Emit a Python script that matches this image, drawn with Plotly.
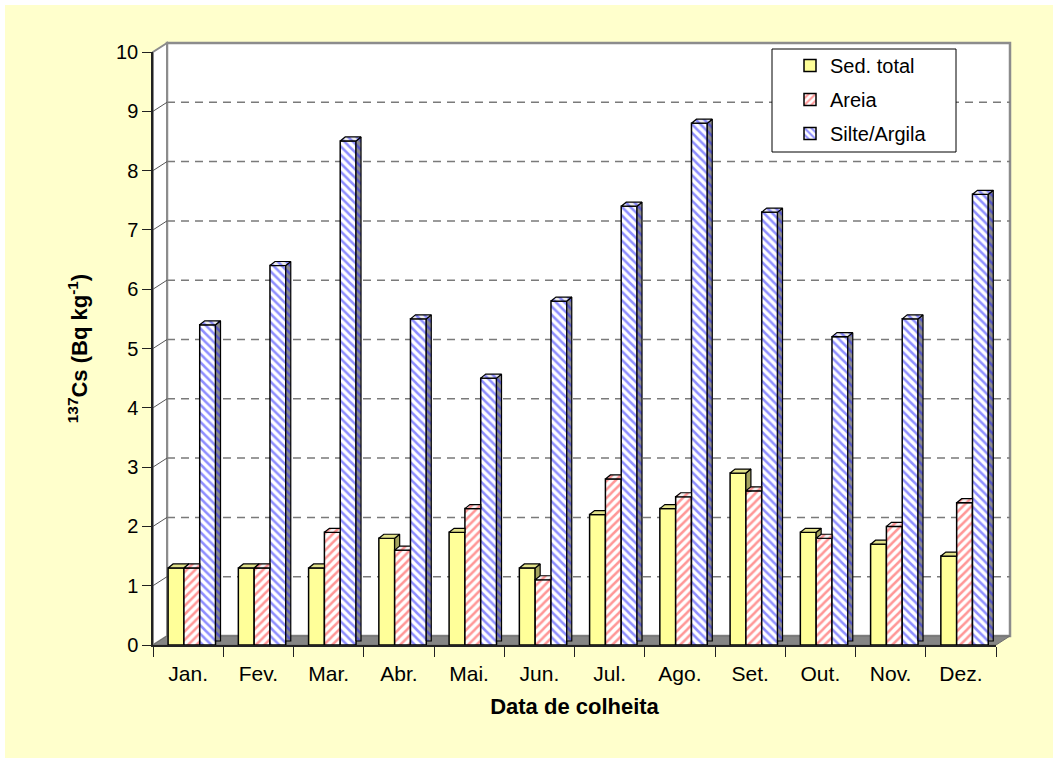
import plotly.graph_objects as go

# ---- data -------------------------------------------------------------
months = ["Jan.", "Fev.", "Mar.", "Abr.", "Mai.", "Jun.",
          "Jul.", "Ago.", "Set.", "Out.", "Nov.", "Dez."]
sed_total = [1.3, 1.3, 1.3, 1.8, 1.9, 1.3, 2.2, 2.3, 2.9, 1.9, 1.7, 1.5]
areia = [1.3, 1.3, 1.9, 1.6, 2.3, 1.1, 2.8, 2.5, 2.6, 1.8, 2.0, 2.4]
silte_argila = [5.4, 6.4, 8.5, 5.5, 4.5, 5.8, 7.4, 8.8, 7.3, 5.2, 5.5, 7.6]
y_ticks = list(range(0, 11))

# ---- geometry of the figure (pixels) -----------------------------------
W, H = 1053, 758
L, R, T, B = 153, 996, 52, 645          # front frame of the plot area
WALL_DX, WALL_DY = 14, 9                # depth of walls / floor
BAR_DX, BAR_DY = 5, 4                   # depth of each column
FONT = "Liberation Sans, Arial, sans-serif"

x_range = (-0.5, len(months) - 0.5)
y_range = (0, 10)
ux = (R - L) / (x_range[1] - x_range[0])   # px per category
uy = (B - T) / (y_range[1] - y_range[0])   # px per value unit
ddx = BAR_DX / ux
ddy = BAR_DY / uy


def px(x):
    return (x - L) / (R - L)


def py(y):
    return (B - y) / (B - T)


BW = 0.225
series = [
    dict(name="Sed. total", vals=sed_total, off=-0.285, front="#FFFF99",
         top="#E2E28A", side="#A3A35E", pattern=None),
    dict(name="Areia", vals=areia, off=-0.06, front="white",
         top="#F4F4F4", side="#8C8C8C",
         pattern=dict(shape="/", fgcolor="#FF3030", size=6, solidity=0.42)),
    dict(name="Silte/Argila", vals=silte_argila, off=0.165, front="white",
         top="#ECECEC", side="#8C8C8C",
         pattern=dict(shape="\\", fgcolor="#2020FF", size=6, solidity=0.42)),
]

fig = go.Figure()

# front faces of the columns
for s in series:
    marker = dict(color=s["front"], line=dict(color="black", width=1.5))
    if s["pattern"]:
        marker["pattern"] = dict(s["pattern"], bgcolor="white")
    fig.add_trace(go.Bar(
        x=list(range(len(months))), y=s["vals"], width=BW, offset=s["off"],
        marker=marker, name=s["name"], legendgroup=s["name"],
        hoverinfo="skip",
    ))

# side and top faces (3-D look), drawn from the same values
for si, s in enumerate(series):
    nxt = series[si + 1]["vals"] if si + 1 < len(series) else None
    sx, sy, tx, ty = [], [], [], []
    for k, v in enumerate(s["vals"]):
        x0 = k + s["off"]
        x1 = x0 + BW
        nv = nxt[k] if nxt else 0.0
        # right side face, hidden below the neighbouring column
        c = max(nv, 0.0)
        if c < v:
            c = max(c, ddy)
            sx += [x1, x1 + ddx, x1 + ddx, x1, x1, None]
            sy += [c, c, v + ddy, v, c, None]
        elif c < v + ddy:
            xi = x1 + ddx * (c - v) / ddy
            sx += [xi, x1 + ddx, x1 + ddx, xi, None]
            sy += [c, c, v + ddy, c, None]
        # top face
        if nv > v + ddy / 2:
            tx += [x0, x0 + ddx, x1, x1, x0, None]
            ty += [v, v + ddy, v + ddy, v, v, None]
        else:
            tx += [x0, x0 + ddx, x1 + ddx, x1, x0, None]
            ty += [v, v + ddy, v + ddy, v, v, None]
    for xs, ys, col in ((sx, sy, s["side"]), (tx, ty, s["top"])):
        kw = dict(x=xs, y=ys, mode="lines", fill="toself",
                  line=dict(color="black", width=1.2),
                  showlegend=False, hoverinfo="skip", fillcolor=col,
                  legendgroup=s["name"])
        if s["pattern"]:
            kw["fillpattern"] = dict(s["pattern"], bgcolor=col)
        fig.add_trace(go.Scatter(**kw))

# ---- walls, floor and gridlines ---------------------------------------
shapes = []
# page background (thin white edge at top/left)
shapes.append(dict(type="rect", xref="paper", yref="paper",
                   x0=px(5), x1=px(W + 5), y0=py(5), y1=py(H + 5),
                   fillcolor="#FFFFCC", line=dict(width=0), layer="below"))
# back wall
shapes.append(dict(type="rect", xref="paper", yref="paper",
                   x0=px(L + WALL_DX), x1=px(R + WALL_DX),
                   y0=py(B - WALL_DY), y1=py(T - WALL_DY),
                   fillcolor="white", line=dict(color="#8C8C8C", width=2.5),
                   layer="below"))
# left wall
shapes.append(dict(type="path", xref="paper", yref="paper",
                   path=f"M{px(L)},{py(B)} L{px(L)},{py(T)} "
                        f"L{px(L + WALL_DX)},{py(T - WALL_DY)} "
                        f"L{px(L + WALL_DX)},{py(B - WALL_DY)} Z",
                   fillcolor="white", line=dict(color="#8C8C8C", width=2),
                   layer="below"))
# floor
shapes.append(dict(type="path", xref="paper", yref="paper",
                   path=f"M{px(L)},{py(B)} L{px(R)},{py(B)} "
                        f"L{px(R + WALL_DX)},{py(B - WALL_DY)} "
                        f"L{px(L + WALL_DX)},{py(B - WALL_DY)} Z",
                   fillcolor="#858585", line=dict(color="#6E6E6E", width=1),
                   layer="below"))
# dashed gridlines on the back wall and left wall
for v in y_ticks[1:-1]:
    yb = v / 10 + WALL_DY / (B - T)
    shapes.append(dict(type="line", xref="paper", yref="paper",
                       x0=px(L + WALL_DX), x1=px(R + WALL_DX), y0=yb, y1=yb,
                       line=dict(color="#7A7A7A", width=1.5, dash="8px,6px"),
                       layer="below"))
    shapes.append(dict(type="line", xref="paper", yref="paper",
                       x0=0, x1=px(L + WALL_DX), y0=v / 10, y1=yb,
                       line=dict(color="#555555", width=1), layer="below"))
# legend frame
shapes.append(dict(type="rect", xref="paper", yref="paper",
                   x0=px(772), x1=px(956), y0=py(152), y1=py(49),
                   fillcolor="white", line=dict(color="black", width=1),
                   layer="below"))

fig.update_layout(
    width=W, height=H,
    margin=dict(l=L, r=W - R, t=T, b=H - B, pad=0),
    paper_bgcolor="white",
    plot_bgcolor="rgba(0,0,0,0)",
    font=dict(family=FONT, size=20, color="black"),
    barmode="overlay",
    shapes=shapes,
    showlegend=True,
    legend=dict(x=px(790), y=py(46), xanchor="left", yanchor="top",
                bgcolor="rgba(0,0,0,0)", borderwidth=0,
                font=dict(family=FONT, size=20),
                tracegroupgap=5, traceorder="grouped"),
    xaxis=dict(
        range=list(x_range), tickvals=list(range(len(months))),
        ticktext=months, ticks="", showgrid=False, zeroline=False,
        showline=True, linecolor="#222222", linewidth=1.5,
        ticklabelstandoff=9,
        tickfont=dict(family=FONT, size=21),
        minor=dict(tick0=-0.5, dtick=1, ticks="outside", ticklen=10,
                   tickcolor="#222222", tickwidth=1, showgrid=False),
        title=dict(text="<b>Data de colheita</b>", standoff=15,
                   font=dict(family=FONT, size=22)),
    ),
    yaxis=dict(
        range=list(y_range), tickvals=y_ticks, ticks="outside", ticklen=9,
        tickcolor="#222222", showgrid=False, zeroline=False,
        showline=True, linecolor="#222222", linewidth=1.5,
        tickfont=dict(family=FONT, size=20),
        title=dict(text="<b><sup>137</sup>Cs (Bq kg<sup>-1</sup>)</b>",
                   standoff=22, font=dict(family=FONT, size=22)),
    ),
)

fig.write_html("out.html")
